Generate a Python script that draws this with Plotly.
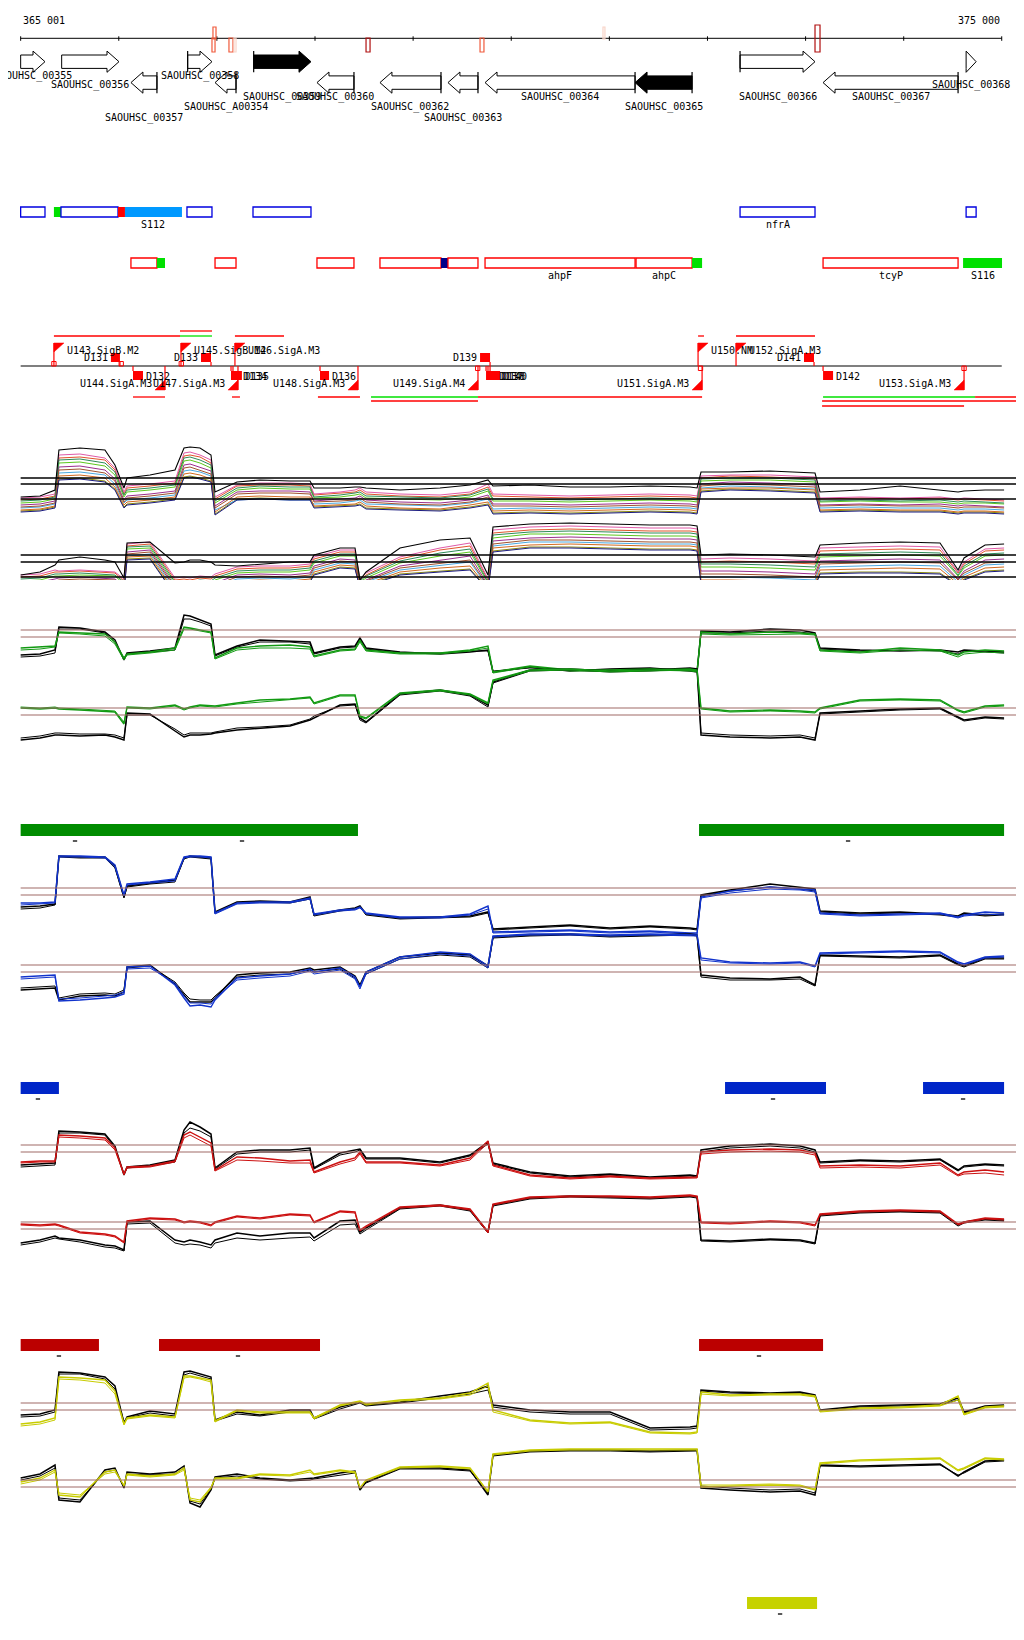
import plotly.graph_objects as go

# the page body has an 8px margin, so the figure is sized to fit inside the window
PAGE_OFF = 8
FIG_W, FIG_H = 1024 - PAGE_OFF, 1640 - PAGE_OFF
X_RANGE = [364872, 375227]

# ====================== DATA ======================
SCALE_FROM, SCALE_TO = 365001, 375000
SCALE_TICKS = [365001, 366001, 367001, 368001, 369001, 370001, 371001, 372001, 373001, 374001, 375000]
SCALE_LABELS = ["365 001", "375 000"]

# small probe marks on the ruler
MARK_START = [366951, 366961, 367124, 367175, 368521, 369683, 370936, 373097]
MARK_END = [366982, 366992, 367165, 367196, 368562, 369723, 370956, 373148]
MARK_SIDE = ["-", "+", "-", "-", "-", "-", "+", "b"]
MARK_KIND = ["mid", "mid", "mid", "weak", "strong", "mid", "weak", "strong"]

# genes
GENE_NAMES = ["SAOUHSC_00355", "SAOUHSC_00356", "SAOUHSC_00357", "SAOUHSC_00358", "SAOUHSC_A00354",
              "SAOUHSC_00359", "SAOUHSC_00360", "SAOUHSC_00362", "SAOUHSC_00363", "SAOUHSC_00364",
              "SAOUHSC_00365", "SAOUHSC_00366", "SAOUHSC_00367", "SAOUHSC_00368"]
GENE_START = [365001, 365419, 366125, 366703, 366982, 367376, 368021, 368663, 369356, 369734,
              371263, 372333, 373179, 374637]
GENE_END = [365249, 366003, 366390, 366951, 367196, 367960, 368398, 369285, 369662, 371263,
            371844, 373097, 374555, 374739]
GENE_STRAND = ["+", "+", "-", "+", "-", "+", "-", "-", "-", "-", "-", "+", "-", "+"]
GENE_HIGHLIGHT = [0, 0, 0, 0, 0, 1, 0, 0, 0, 0, 1, 0, 0, 0]
GENE_START_MARK = [0, 0, 1, 1, 1, 1, 1, 1, 1, 1, 1, 1, 1, 0]

# feature track 1
F1_START = [365001, 365340, 365412, 365993, 366064, 366696, 367369, 372333, 374637]
F1_END = [365249, 365412, 365993, 366064, 366645, 366951, 367960, 373097, 374739]
F1_KIND = ["box", "green", "box", "red", "lblue", "box", "box", "box", "box"]
F1_LABEL = ["", "", "", "", "S112", "", "", "nfrA", ""]

# feature track 2
F2_START = [366125, 366390, 366982, 368021, 368663, 369285, 369356, 369734, 371273, 371844, 373179, 374606]
F2_END = [366390, 366472, 367196, 368398, 369285, 369356, 369662, 371263, 371844, 371946, 374555, 375003]
F2_KIND = ["box", "green", "box", "box", "box", "navy", "box", "box", "box", "green", "box", "green"]
F2_LABEL = ["", "", "", "", "", "", "", "ahpF", "ahpC", "", "tcyP", "S116"]

# promoters
PROM_NAME = ["U143.SigB.M2", "U145.SigB.M2", "U146.SigA.M3", "U150.NM", "U152.SigA.M3",
             "U144.SigA.M3", "U147.SigA.M3", "U148.SigA.M3", "U149.SigA.M4", "U151.SigA.M3", "U153.SigA.M3"]
PROM_POS = [365340, 366635, 367185, 371905, 372292, 366472, 367216, 368439, 369662, 371946, 374616]
PROM_STRAND = ["+", "+", "+", "+", "+", "-", "-", "-", "-", "-", "-"]

# terminators
TERM_NAME = ["D131", "D133", "D139", "D141", "D132", "D134", "D135", "D136", "D137", "D138", "D140", "D142"]
TERM_START = [365921, 366839, 369683, 372985, 366146, 367145, 367165, 368052, 369744, 369764, 369785, 373179]
TERM_END = [366013, 366941, 369785, 373087, 366248, 367236, 367256, 368144, 369846, 369866, 369887, 373281]
TERM_STRAND = ["+", "+", "+", "+", "-", "-", "-", "-", "-", "-", "-", "-"]

# boundary sites on the transcription axis
SITE_POS = [365340, 366026, 366638, 369659, 371930, 374616]
SITE_STRAND = ["+", "+", "+", "-", "-", "-"]

# transcript segments
TX_START = [365340, 366625, 366625, 367185, 371905, 372292, 366146, 367155, 368031, 368572, 368572,
            369662, 373179, 374728, 373169, 373169]
TX_END = [366625, 366951, 366951, 367685, 371966, 373097, 366472, 367236, 368459, 369662, 369662,
          371946, 374728, 375227, 375227, 374616]
TX_ROW = [-1, -1, -2, -1, -1, -1, 1, 1, 1, 1, 2, 1, 1, 1, 2, 3]
TX_KIND = ["r", "g", "r", "r", "r", "r", "r", "r", "r", "g", "r", "r", "g", "r", "r", "r"]

# significance bars
GREEN_BAR_START = [365001, 371915]
GREEN_BAR_END = [368439, 375024]
GREEN_DASH = [365555, 367257, 373434]
BLUE_BAR_START = [365001, 372180, 374198]
BLUE_BAR_END = [365391, 373209, 375024]
BLUE_DASH = [365177, 372669, 374606]
RED_BAR_START = [365001, 366411, 371915]
RED_BAR_END = [365799, 368052, 373179]
RED_DASH = [365391, 367216, 372526]
YEL_BAR_START = [372404]
YEL_BAR_END = [373118]
YEL_DASH = [372741]

# common sampling positions of the signal profiles
POS = [365001, 365198, 365351, 365391, 365605, 365860, 365962, 366054, 366085, 366319,
       366574, 366666, 366727, 366829, 366941, 366982, 367206, 367440, 367746, 367950,
       367991, 368256, 368409, 368459, 368521, 368867, 369275, 369581, 369764, 369815,
       370192, 370600, 371008, 371415, 371823, 371895, 371935, 372231, 372639, 372944,
       373097, 373148, 373556, 373964, 374371, 374555, 374616, 374830, 375024]

# ---- multi-condition panel (signal units) ----
MC_TOP_BLACK = [103, 104, 110, 150, 152, 150, 135, 112, 122, 125,
                130, 152, 153, 152, 145, 108, 118, 120, 119, 119,
                112, 112, 113, 113, 112, 110, 112, 115, 120, 114,
                115, 113, 113, 114, 113, 112, 128, 128, 129, 128,
                127, 108, 110, 114, 110, 108, 109, 110, 110]
MC_TOP_1 = [100, 101, 104, 142, 143, 140, 130, 106, 112, 114,
            117, 144, 145, 143, 137, 101, 114, 115, 115, 114,
            105, 107, 108, 110, 106, 104, 103, 106, 113, 104,
            103, 102, 103, 104, 103, 102, 122, 124, 123, 122,
            121, 101, 102, 101, 102, 100, 101, 100, 99]
MC_TOP_2 = [97, 98, 101, 137, 138, 134, 125, 103, 108, 110,
            113, 139, 140, 137, 132, 97, 110, 112, 111, 111,
            102, 103, 105, 106, 102, 101, 100, 103, 109, 99,
            99, 98, 99, 100, 99, 98, 119, 120, 120, 119,
            118, 98, 99, 98, 98, 96, 97, 97, 96]
MC_TOP_3 = [95, 96, 99, 133, 134, 130, 121, 100, 104, 106,
            109, 135, 136, 133, 129, 94, 108, 109, 109, 108,
            99, 101, 102, 104, 100, 98, 97, 100, 105, 96,
            96, 95, 96, 97, 96, 95, 116, 118, 117, 116,
            115, 95, 96, 95, 96, 94, 95, 94, 93]
MC_TOP_4 = [89, 90, 93, 121, 122, 119, 111, 93, 96, 98,
            101, 123, 124, 122, 119, 86, 101, 102, 101, 101,
            93, 94, 95, 96, 92, 91, 90, 93, 96, 87,
            88, 87, 88, 89, 88, 87, 109, 111, 110, 109,
            108, 89, 90, 89, 89, 87, 88, 88, 87]
MC_TOP_5 = [92, 93, 96, 127, 128, 125, 116, 97, 100, 102,
            105, 129, 130, 128, 124, 90, 100, 101, 100, 100,
            96, 97, 99, 100, 96, 95, 94, 97, 101, 91,
            92, 91, 92, 93, 92, 91, 112, 114, 113, 112,
            111, 92, 93, 92, 92, 90, 91, 91, 90]
MC_TOP_6 = [90, 91, 94, 124, 125, 122, 113, 95, 98, 100,
            103, 126, 127, 125, 121, 88, 103, 104, 103, 103,
            94, 95, 96, 98, 94, 92, 91, 95, 98, 89,
            90, 89, 90, 91, 90, 89, 111, 112, 112, 111,
            110, 90, 91, 90, 90, 88, 89, 89, 88]
MC_TOP_7 = [102, 103, 106, 145, 146, 142, 132, 108, 114, 116,
            119, 147, 148, 145, 140, 103, 115, 117, 117, 116,
            106, 108, 110, 112, 108, 106, 105, 108, 116, 106,
            105, 104, 105, 106, 105, 104, 124, 125, 125, 124,
            123, 102, 103, 102, 103, 101, 102, 101, 100]
MC_TOP_8 = [99, 100, 103, 140, 141, 137, 128, 105, 110, 112,
            115, 142, 143, 140, 135, 99, 112, 114, 113, 113,
            103, 105, 107, 108, 104, 103, 102, 105, 111, 101,
            101, 100, 101, 102, 101, 100, 121, 122, 122, 121,
            120, 99, 100, 99, 100, 98, 99, 98, 97]
MC_TOP_9 = [93, 94, 97, 130, 131, 127, 119, 98, 102, 104,
            107, 132, 133, 130, 126, 92, 106, 107, 107, 106,
            98, 99, 100, 102, 98, 96, 95, 98, 103, 94,
            94, 93, 94, 95, 94, 93, 114, 116, 115, 114,
            113, 94, 95, 94, 94, 92, 93, 93, 92]
MC_TOP_10 = [88, 89, 92, 120, 121, 118, 110, 92, 95, 97,
             100, 122, 123, 121, 118, 85, 100, 101, 100, 100,
             92, 93, 94, 95, 91, 90, 89, 92, 95, 86,
             87, 86, 87, 88, 87, 86, 108, 110, 109, 108,
             107, 88, 89, 88, 88, 86, 87, 87, 86]
MC_BOT_BLACK = [25, 28, 35, 40, 43, 40, 38, 22, 57, 58,
                37, 38, 40, 40, 38, 35, 34, 36, 38, 38,
                45, 52, 52, 20, 28, 52, 60, 62, 25, 73,
                76, 77, 76, 75, 75, 74, 45, 46, 45, 44,
                43, 55, 57, 58, 57, 30, 42, 55, 56]
MC_BOT_1 = [23, 24, 28, 28, 29, 28, 27, 19, 54, 56,
            20, 21, 20, 22, 21, 24, 31, 32, 32, 34,
            41, 48, 48, 20, 25, 41, 50, 54, 20, 67,
            70, 71, 70, 69, 69, 68, 38, 39, 38, 37,
            36, 49, 50, 51, 50, 27, 36, 49, 50]
MC_BOT_2 = [19, 20, 24, 24, 25, 24, 24, 16, 51, 52,
            16, 17, 16, 18, 17, 20, 27, 28, 28, 30,
            37, 44, 44, 18, 22, 37, 44, 48, 17, 62,
            66, 66, 65, 64, 64, 63, 33, 33, 32, 31,
            30, 43, 44, 45, 44, 24, 32, 44, 45]
MC_BOT_3 = [17, 18, 21, 22, 23, 22, 21, 14, 48, 50,
            14, 15, 14, 16, 15, 17, 25, 26, 25, 27,
            34, 41, 40, 16, 20, 34, 40, 44, 15, 59,
            62, 63, 62, 61, 61, 60, 29, 29, 28, 27,
            26, 39, 40, 41, 40, 21, 29, 40, 41]
MC_BOT_4 = [9, 10, 13, 15, 16, 15, 15, 9, 41, 42,
            6, 7, 6, 8, 7, 9, 17, 18, 17, 19,
            26, 33, 32, 12, 15, 26, 29, 31, 11, 49,
            53, 53, 52, 51, 51, 50, 17, 17, 16, 15,
            14, 27, 28, 28, 27, 15, 21, 29, 30]
MC_BOT_5 = [13, 14, 17, 18, 19, 18, 18, 12, 44, 46,
            10, 11, 10, 12, 11, 13, 21, 22, 21, 23,
            30, 37, 36, 14, 18, 30, 35, 38, 13, 54,
            58, 58, 57, 56, 56, 55, 23, 23, 22, 21,
            20, 33, 34, 35, 34, 18, 25, 35, 36]
MC_BOT_6 = [11, 12, 15, 17, 18, 17, 16, 10, 43, 44,
            8, 9, 8, 10, 9, 11, 19, 20, 19, 21,
            28, 35, 34, 13, 16, 28, 32, 34, 12, 52,
            55, 56, 55, 54, 54, 53, 20, 20, 19, 18,
            17, 30, 31, 32, 31, 16, 23, 32, 33]
MC_BOT_7 = [25, 26, 30, 29, 30, 29, 28, 21, 56, 58,
            22, 23, 22, 24, 23, 26, 33, 34, 34, 36,
            43, 50, 50, 21, 27, 43, 52, 57, 21, 70,
            73, 74, 73, 72, 72, 71, 41, 42, 41, 40,
            39, 52, 53, 54, 53, 28, 38, 51, 52]
MC_BOT_8 = [21, 22, 26, 26, 27, 26, 25, 18, 53, 54,
            18, 19, 18, 20, 19, 22, 29, 30, 30, 32,
            39, 46, 46, 19, 24, 39, 47, 51, 18, 65,
            68, 69, 68, 67, 67, 66, 36, 36, 35, 34,
            33, 46, 47, 48, 47, 25, 34, 46, 47]
MC_BOT_9 = [15, 16, 19, 20, 21, 20, 20, 13, 46, 48,
            12, 13, 12, 14, 13, 15, 23, 24, 23, 25,
            32, 39, 38, 16, 19, 32, 37, 40, 14, 56,
            60, 60, 59, 58, 58, 57, 26, 26, 25, 24,
            23, 36, 37, 38, 37, 20, 27, 37, 38]
MC_BOT_10 = [8, 9, 12, 14, 15, 14, 14, 8, 40, 41,
             5, 6, 5, 7, 6, 8, 16, 17, 16, 18,
             25, 32, 31, 12, 14, 25, 28, 30, 10, 48,
             52, 52, 51, 50, 50, 49, 16, 15, 14, 14,
             13, 26, 27, 27, 26, 14, 20, 28, 29]
MC_THRESH = [122, 116, 101, 45, 38, 23]

# ---- green panel ----
G_TOP_K1 = [105, 106, 110, 133, 132, 128, 120, 100, 107, 109,
            112, 145, 144, 140, 136, 105, 114, 120, 119, 118,
            107, 113, 114, 122, 112, 108, 106, 108, 110, 88,
            93, 89, 91, 92, 89, 88, 129, 128, 131, 130,
            127, 112, 110, 109, 110, 108, 110, 109, 108]
G_TOP_K2 = [103, 104, 107, 131, 131, 127, 118, 101, 106, 108,
            110, 141, 141, 138, 134, 104, 113, 118, 118, 116,
            106, 112, 113, 121, 111, 107, 107, 109, 109, 89,
            92, 90, 90, 91, 90, 89, 127, 127, 129, 128,
            126, 111, 109, 110, 109, 106, 109, 108, 107]
G_TOP_C1 = [112, 113, 114, 128, 127, 126, 118, 102, 106, 108,
            112, 133, 132, 130, 128, 102, 112, 114, 115, 113,
            104, 110, 111, 120, 110, 107, 107, 110, 114, 88,
            94, 90, 90, 91, 90, 89, 128, 126, 128, 127,
            126, 110, 108, 112, 110, 105, 108, 110, 109]
G_TOP_C2 = [110, 111, 113, 127, 126, 124, 116, 100, 105, 107,
            110, 131, 131, 129, 127, 101, 110, 112, 112, 111,
            103, 109, 110, 118, 109, 106, 106, 109, 112, 87,
            93, 89, 89, 90, 89, 88, 126, 125, 126, 126,
            125, 109, 107, 110, 109, 103, 106, 108, 107]
G_BOT_K1 = [20, 22, 25, 25, 24, 25, 23, 20, 47, 46,
            29, 23, 25, 25, 26, 27, 30, 32, 34, 40,
            42, 55, 56, 42, 38, 66, 70, 65, 55, 78,
            90, 91, 89, 90, 92, 91, 25, 23, 22, 23,
            20, 47, 49, 51, 52, 43, 40, 43, 42]
G_BOT_K2 = [22, 24, 27, 27, 26, 26, 25, 22, 45, 45,
            31, 25, 27, 27, 27, 28, 32, 33, 35, 41,
            44, 54, 55, 40, 37, 65, 69, 64, 53, 77,
            89, 90, 88, 89, 91, 90, 27, 25, 24, 25,
            22, 46, 48, 50, 51, 42, 39, 42, 41]
G_BOT_C1 = [52, 51, 52, 51, 50, 49, 48, 36, 53, 52,
            55, 51, 53, 55, 54, 54, 57, 60, 61, 63,
            57, 65, 65, 44, 42, 67, 70, 66, 57, 80,
            90, 91, 89, 90, 91, 90, 52, 49, 50, 49,
            48, 52, 60, 61, 60, 50, 48, 54, 55]
G_BOT_C2 = [53, 52, 53, 52, 51, 50, 49, 38, 52, 51,
            54, 50, 52, 54, 53, 53, 56, 58, 60, 62,
            56, 64, 64, 43, 41, 66, 69, 65, 56, 79,
            89, 90, 88, 89, 90, 89, 51, 48, 49, 48,
            47, 51, 59, 60, 59, 49, 47, 53, 54]
G_THRESH = [130, 123, 52, 45]

# ---- blue panel ----
B_TOP_K1 = [103, 104, 106, 154, 153, 153, 144, 113, 124, 127,
            130, 152, 154, 153, 152, 98, 108, 109, 108, 113,
            95, 100, 102, 104, 96, 92, 93, 94, 98, 81,
            83, 85, 82, 84, 82, 81, 115, 120, 126, 123,
            121, 99, 97, 98, 96, 94, 97, 95, 96]
B_TOP_K2 = [101, 102, 105, 153, 152, 152, 142, 112, 123, 126,
            128, 151, 153, 152, 151, 97, 107, 108, 107, 111,
            94, 99, 101, 103, 95, 91, 92, 93, 97, 80,
            82, 84, 81, 83, 81, 80, 114, 119, 123, 121,
            119, 98, 96, 97, 95, 93, 96, 94, 95]
B_TOP_C1 = [107, 107, 108, 154, 154, 153, 145, 115, 126, 128,
            131, 153, 154, 154, 153, 97, 107, 108, 108, 112,
            96, 100, 101, 103, 97, 93, 93, 96, 104, 78,
            79, 80, 78, 79, 77, 77, 113, 119, 123, 121,
            120, 97, 95, 96, 97, 93, 95, 98, 97]
B_TOP_C2 = [105, 106, 107, 153, 153, 152, 143, 114, 125, 127,
            129, 152, 153, 153, 152, 96, 106, 107, 107, 111,
            95, 99, 100, 102, 96, 92, 92, 95, 101, 77,
            78, 79, 77, 78, 76, 76, 112, 117, 121, 120,
            118, 96, 94, 95, 96, 92, 94, 96, 95]
B_BOT_K1 = [20, 21, 22, 10, 14, 15, 14, 18, 43, 45,
            26, 15, 8, 8, 8, 12, 35, 37, 38, 42,
            40, 43, 34, 25, 38, 53, 57, 55, 44, 73,
            75, 76, 74, 75, 76, 75, 35, 32, 31, 33,
            25, 55, 54, 53, 55, 46, 44, 52, 52]
B_BOT_K2 = [22, 23, 24, 12, 16, 17, 16, 20, 42, 44,
            28, 17, 11, 10, 10, 14, 33, 35, 36, 40,
            38, 41, 32, 24, 36, 51, 55, 53, 42, 72,
            74, 75, 73, 74, 75, 74, 33, 30, 30, 31,
            24, 54, 53, 52, 54, 45, 43, 51, 51]
B_BOT_C1 = [33, 34, 35, 9, 10, 12, 13, 16, 43, 44,
            25, 12, 4, 5, 3, 10, 32, 34, 36, 41,
            38, 42, 33, 23, 38, 53, 58, 56, 44, 74,
            76, 76, 75, 76, 75, 75, 52, 48, 47, 48,
            44, 57, 58, 59, 58, 48, 46, 53, 54]
B_BOT_C2 = [31, 32, 33, 11, 12, 14, 15, 18, 41, 42,
            27, 14, 7, 7, 6, 12, 30, 32, 34, 39,
            36, 40, 31, 21, 36, 51, 56, 54, 42, 73,
            75, 75, 74, 75, 74, 74, 50, 47, 46, 47,
            43, 56, 57, 58, 57, 47, 45, 52, 53]
B_THRESH = [122, 115, 45, 38]

# ---- red panel ----
R_TOP_K1 = [95, 96, 97, 129, 128, 126, 114, 85, 93, 95,
            100, 130, 138, 133, 126, 92, 108, 110, 110, 112,
            92, 107, 110, 111, 102, 102, 98, 105, 118, 97,
            88, 84, 86, 83, 85, 84, 110, 114, 116, 114,
            110, 98, 100, 99, 101, 90, 94, 96, 95]
R_TOP_K2 = [93, 94, 95, 127, 127, 125, 112, 86, 92, 94,
            98, 127, 132, 129, 123, 91, 106, 108, 108, 110,
            91, 105, 108, 110, 101, 101, 97, 104, 116, 96,
            87, 83, 85, 82, 84, 83, 108, 112, 114, 112,
            108, 97, 99, 98, 100, 89, 93, 95, 94]
R_TOP_C1 = [98, 99, 99, 125, 124, 122, 112, 86, 93, 94,
            99, 125, 128, 123, 117, 90, 103, 102, 99, 100,
            88, 98, 102, 108, 98, 98, 95, 102, 119, 95,
            85, 82, 84, 82, 83, 83, 108, 110, 111, 110,
            107, 94, 95, 94, 97, 85, 88, 90, 88]
R_TOP_C2 = [97, 98, 98, 123, 122, 120, 110, 85, 92, 93,
            98, 122, 125, 120, 114, 89, 100, 99, 97, 97,
            87, 96, 100, 106, 97, 97, 94, 100, 117, 94,
            84, 81, 83, 81, 82, 82, 106, 108, 109, 108,
            105, 92, 93, 92, 95, 84, 86, 87, 85]
R_BOT_K1 = [17, 20, 24, 22, 20, 15, 14, 10, 38, 39,
            20, 18, 20, 18, 15, 20, 27, 24, 27, 27,
            22, 39, 40, 28, 32, 52, 55, 50, 28, 55,
            62, 64, 63, 62, 64, 63, 20, 19, 21, 20,
            17, 45, 48, 49, 48, 35, 38, 41, 40]
R_BOT_K2 = [15, 18, 22, 21, 18, 13, 12, 9, 36, 37,
            17, 15, 16, 15, 12, 17, 22, 20, 22, 23,
            19, 35, 36, 26, 30, 51, 54, 49, 27, 54,
            61, 63, 62, 61, 63, 62, 19, 18, 20, 19,
            16, 44, 47, 48, 47, 34, 37, 40, 39]
R_BOT_C1 = [36, 35, 36, 35, 28, 26, 24, 18, 39, 42,
            41, 38, 39, 38, 35, 38, 44, 42, 46, 45,
            38, 49, 48, 30, 34, 53, 55, 51, 28, 56,
            63, 64, 64, 63, 65, 64, 38, 37, 39, 38,
            35, 46, 49, 50, 49, 36, 38, 42, 41]
R_BOT_C2 = [35, 34, 35, 34, 27, 25, 23, 17, 38, 41,
            40, 37, 38, 37, 34, 37, 43, 41, 45, 44,
            37, 48, 47, 29, 33, 52, 54, 50, 27, 55,
            62, 63, 63, 62, 64, 63, 37, 36, 38, 37,
            34, 45, 48, 49, 48, 35, 37, 41, 40]
R_THRESH = [115, 108, 38, 31]

# ---- yellow panel ----
Y_TOP_K1 = [105, 106, 110, 148, 147, 143, 134, 97, 103, 109,
            106, 148, 149, 146, 143, 100, 108, 105, 110, 110,
            102, 113, 117, 118, 115, 118, 124, 128, 134, 115,
            110, 108, 108, 92, 93, 94, 130, 128, 127, 128,
            125, 110, 114, 115, 116, 122, 108, 114, 115]
Y_TOP_K2 = [103, 104, 108, 146, 146, 141, 131, 98, 102, 107,
            104, 145, 147, 144, 141, 99, 106, 104, 108, 108,
            101, 111, 115, 117, 114, 117, 122, 126, 130, 113,
            108, 106, 106, 90, 91, 92, 129, 127, 126, 127,
            124, 109, 113, 114, 115, 120, 107, 113, 114]
Y_TOP_C1 = [96, 98, 102, 143, 142, 140, 129, 96, 102, 105,
            103, 144, 144, 142, 140, 99, 110, 108, 108, 108,
            102, 115, 118, 119, 116, 120, 122, 127, 137, 110,
            100, 97, 98, 88, 87, 88, 128, 125, 126, 126,
            124, 109, 112, 113, 115, 124, 106, 113, 114]
Y_TOP_C2 = [94, 96, 100, 141, 140, 137, 126, 95, 101, 104,
            102, 142, 143, 141, 138, 98, 109, 107, 107, 107,
            101, 114, 117, 118, 115, 119, 121, 125, 134, 108,
            99, 96, 97, 87, 86, 87, 126, 124, 125, 125,
            123, 108, 111, 112, 114, 120, 105, 112, 113]
Y_BOT_K1 = [42, 46, 55, 20, 18, 50, 52, 32, 48, 46,
            48, 54, 17, 13, 30, 43, 46, 42, 40, 42,
            42, 47, 49, 30, 38, 52, 52, 50, 25, 65,
            69, 70, 70, 69, 70, 70, 32, 30, 28, 29,
            25, 55, 54, 55, 56, 44, 48, 59, 60]
Y_BOT_K2 = [40, 44, 52, 22, 20, 48, 50, 33, 46, 45,
            46, 52, 19, 16, 31, 42, 44, 41, 39, 40,
            41, 45, 47, 31, 37, 51, 51, 49, 27, 64,
            68, 69, 69, 68, 69, 69, 34, 32, 30, 31,
            27, 54, 53, 54, 55, 45, 47, 58, 59]
Y_BOT_C1 = [38, 42, 50, 25, 23, 48, 50, 34, 46, 44,
            46, 52, 20, 18, 32, 42, 42, 46, 45, 50,
            46, 50, 48, 32, 40, 53, 54, 52, 28, 66,
            70, 71, 71, 71, 71, 71, 33, 34, 35, 34,
            30, 57, 60, 61, 62, 50, 52, 62, 61]
Y_BOT_C2 = [36, 40, 48, 27, 25, 46, 48, 35, 45, 43,
            45, 50, 22, 20, 33, 41, 41, 45, 44, 48,
            45, 49, 47, 33, 39, 52, 53, 51, 29, 65,
            69, 70, 70, 70, 70, 70, 35, 35, 36, 35,
            31, 56, 59, 60, 61, 49, 51, 61, 60]
Y_THRESH = [117, 110, 40, 33]

# ====================== STYLE / LAYOUT ======================
FONT = "DejaVu Sans Mono"
TXT = dict(family=FONT, size=10, color="black")
RED = "#ff0000"
GRN = "#00e000"
MARK_COLORS = {"mid": "#f05a3c", "weak": "#f8d4c8", "strong": "#b01010"}
MARK_Y = {"+": (27, 39), "-": (38, 52), "b": (25, 52)}
RULER_Y = 38.3
GENE_ROW = {"+": 61.7, "-": 82.6}
GENE_LABEL_Y = {"SAOUHSC_00355": 76, "SAOUHSC_00356": 85, "SAOUHSC_00357": 118, "SAOUHSC_00358": 76,
                "SAOUHSC_A00354": 107, "SAOUHSC_00359": 97, "SAOUHSC_00360": 97, "SAOUHSC_00362": 107,
                "SAOUHSC_00363": 118, "SAOUHSC_00364": 97, "SAOUHSC_00365": 107, "SAOUHSC_00366": 97,
                "SAOUHSC_00367": 97, "SAOUHSC_00368": 85}
HEAD_BP = 122
F1_Y, F2_Y = (207, 217), (258, 268)
F_FILL = {"green": GRN, "red": RED, "lblue": "#0099ff", "navy": "#000088"}
TX_LINE_Y = 366
TX_ROW_Y = {-2: 331, -1: 336, 1: 397, 2: 401, 3: 406}
FLAG_BP = 102
SITE_BP = 22

# page-pixel extents (top, bottom) of the signal panels
PANEL_PX = {"y2": (420, 600), "y3": (580, 760), "y4": (840, 1010), "y5": (1100, 1260), "y6": (1350, 1520)}

fig = go.Figure()
shapes = []
annos = []


def rect(x0, x1, y0, y1, line=None, fill=None, width=1.2, yref="y"):
    shapes.append(dict(type="rect", xref="x", yref=yref, x0=x0, x1=x1, y0=y0, y1=y1,
                       line=dict(color=line if line else "rgba(0,0,0,0)", width=width if line else 0),
                       fillcolor=fill if fill else "rgba(0,0,0,0)", layer="above"))


def hline(x0, x1, y, color, width=1.0, yref="y"):
    shapes.append(dict(type="line", xref="x", yref=yref, x0=x0, x1=x1, y0=y, y1=y,
                       line=dict(color=color, width=width), layer="above"))


def vline(x, y0, y1, color, width=1.0):
    shapes.append(dict(type="line", xref="x", yref="y", x0=x, x1=x, y0=y0, y1=y1,
                       line=dict(color=color, width=width), layer="above"))


def text(x, y, s, anchor="center"):
    annos.append(dict(x=x, y=y, xref="x", yref="y", text=s, showarrow=False, xanchor=anchor,
                      yanchor="middle", font=TXT))


def poly(xs, ys, fill, line="black", width=1.0):
    fig.add_trace(go.Scatter(x=xs, y=ys, mode="lines", fill="toself", fillcolor=fill,
                             line=dict(color=line, width=width), xaxis="x", yaxis="y",
                             hoverinfo="skip", showlegend=False))


# ---- ruler ----
hline(SCALE_FROM, SCALE_TO, RULER_Y, "black", 1)
for t in SCALE_TICKS:
    vline(t, RULER_Y - 2, RULER_Y + 2.5, "black", 1)
text(SCALE_FROM, 20, SCALE_LABELS[0], "left")
text(SCALE_TO, 20, SCALE_LABELS[1], "right")
for s, e, side, kind in zip(MARK_START, MARK_END, MARK_SIDE, MARK_KIND):
    y0, y1 = MARK_Y[side]
    rect(s, e, y0, y1, line=MARK_COLORS[kind], width=1.2)

# ---- genes ----
for name, s, e, st, hl, sm in zip(GENE_NAMES, GENE_START, GENE_END, GENE_STRAND, GENE_HIGHLIGHT, GENE_START_MARK):
    yc = GENE_ROW[st]
    h = min(HEAD_BP, e - s)
    bh, hh = 6.7, 10.6
    if st == "+":
        xs = [s, e - h, e - h, e, e - h, e - h, s, s]
    else:
        xs = [e, s + h, s + h, s, s + h, s + h, e, e]
    ys = [yc - bh, yc - bh, yc - hh, yc, yc + hh, yc + bh, yc + bh, yc - bh]
    poly(xs, ys, "black" if hl else "white")
    if sm:
        vline(s if st == "+" else e, yc - hh, yc + hh, "black", 1.2)
    text((s + e) / 2, GENE_LABEL_Y[name], name)

# ---- feature tracks ----
for starts, ends, kinds, labels, (y0, y1), col in [
        (F1_START, F1_END, F1_KIND, F1_LABEL, F1_Y, "#0000e0"),
        (F2_START, F2_END, F2_KIND, F2_LABEL, F2_Y, RED)]:
    for s, e, k, lab in zip(starts, ends, kinds, labels):
        if k == "box":
            rect(s, e, y0, y1, line=col, width=1.3)
        else:
            rect(s, e, y0, y1, fill=F_FILL[k])
        if lab:
            text((s + e) / 2, y1 + 7, lab)

# ---- transcription track ----
hline(SCALE_FROM, SCALE_TO, TX_LINE_Y, "black", 1.2)
for s, e, row, k in zip(TX_START, TX_END, TX_ROW, TX_KIND):
    hline(s, e, TX_ROW_Y[row], RED if k == "r" else GRN, 1.3)
for name, p, st in zip(PROM_NAME, PROM_POS, PROM_STRAND):
    if st == "+":
        vline(p, TX_LINE_Y, 343, RED, 1.2)
        poly([p, p + FLAG_BP, p, p], [343, 343, 352, 343], RED, RED, 0.5)
        text(p + FLAG_BP + 10, 350, name, "left")
    else:
        vline(p, TX_LINE_Y, 390, RED, 1.2)
        poly([p, p - FLAG_BP, p, p], [390, 390, 380, 390], RED, RED, 0.5)
        text(p - FLAG_BP - 10, 383, name, "right")
for name, s, e, st in zip(TERM_NAME, TERM_START, TERM_END, TERM_STRAND):
    if st == "+":
        rect(s, e, 353, 362, fill=RED)
        vline(e, 362, TX_LINE_Y, RED, 1.2)
        text(s - 8, 357.5, name, "right")
    else:
        rect(s, e, 371, 380, fill=RED)
        vline(s, TX_LINE_Y, 371, RED, 1.2)
        text(e + 8, 376, name, "left")
for p, st in zip(SITE_POS, SITE_STRAND):
    if st == "+":
        rect(p - SITE_BP, p + SITE_BP, 361.5, 366, line=RED, width=1)
    else:
        rect(p - SITE_BP, p + SITE_BP, 366, 370.5, line=RED, width=1)

# ---- significance bars ----
for starts, ends, dashes, y0, col in [
        (GREEN_BAR_START, GREEN_BAR_END, GREEN_DASH, 824, "#008c00"),
        (BLUE_BAR_START, BLUE_BAR_END, BLUE_DASH, 1082, "#0026c8"),
        (RED_BAR_START, RED_BAR_END, RED_DASH, 1339, "#bb0000"),
        (YEL_BAR_START, YEL_BAR_END, YEL_DASH, 1597, "#c6d200")]:
    for s, e in zip(starts, ends):
        rect(s, e, y0, y0 + 12, fill=col)
    for d in dashes:
        hline(d - 22, d + 22, y0 + 17, "black", 1.3)


# ---- signal panels ----
def line(vals, color, width, yaxis):
    fig.add_trace(go.Scatter(x=POS, y=vals, mode="lines", line=dict(color=color, width=width),
                             xaxis="x", yaxis=yaxis, hoverinfo="skip", showlegend=False))


mc_colors = ["#e0552b", "#5cc81e", "#9a2e8c", "#8a8a10", "#4aa8e0",
             "#d2691e", "#e05aa8", "#2e8b57", "#a0522d", "#1a1a80"]
for t in MC_THRESH:
    hline(SCALE_FROM, X_RANGE[1], t, "black", 1.3, "y2")
mc_top = [MC_TOP_1, MC_TOP_2, MC_TOP_3, MC_TOP_4, MC_TOP_5, MC_TOP_6, MC_TOP_7, MC_TOP_8, MC_TOP_9, MC_TOP_10]
mc_bot = [MC_BOT_1, MC_BOT_2, MC_BOT_3, MC_BOT_4, MC_BOT_5, MC_BOT_6, MC_BOT_7, MC_BOT_8, MC_BOT_9, MC_BOT_10]
for vals, c in zip(mc_top, mc_colors):
    line(vals, c, 1.0, "y2")
for vals, c in zip(mc_bot, mc_colors):
    line(vals, c, 1.0, "y2")
line(MC_TOP_BLACK, "black", 1.1, "y2")
line(MC_BOT_BLACK, "black", 1.1, "y2")

BROWN = "#a06a66"
for ax, thr, col, series in [
        ("y3", G_THRESH, "#129a12", [G_TOP_K1, G_TOP_K2, G_TOP_C1, G_TOP_C2, G_BOT_K1, G_BOT_K2, G_BOT_C1, G_BOT_C2]),
        ("y4", B_THRESH, "#1133cc", [B_TOP_K1, B_TOP_K2, B_TOP_C1, B_TOP_C2, B_BOT_K1, B_BOT_K2, B_BOT_C1, B_BOT_C2]),
        ("y5", R_THRESH, "#cc1111", [R_TOP_K1, R_TOP_K2, R_TOP_C1, R_TOP_C2, R_BOT_K1, R_BOT_K2, R_BOT_C1, R_BOT_C2]),
        ("y6", Y_THRESH, "#c8cc00", [Y_TOP_K1, Y_TOP_K2, Y_TOP_C1, Y_TOP_C2, Y_BOT_K1, Y_BOT_K2, Y_BOT_C1, Y_BOT_C2])]:
    for t in thr:
        hline(SCALE_FROM, X_RANGE[1], t, BROWN, 1.2, ax)
    k1, k2, c1, c2, bk1, bk2, bc1, bc2 = series
    for v, c, w in [(k2, "black", 1.0), (k1, "black", 1.5), (c2, col, 1.0), (c1, col, 1.4),
                    (bk2, "black", 1.0), (bk1, "black", 1.5), (bc2, col, 1.0), (bc1, col, 1.4)]:
        line(v, c, w, ax)

# ---- layout (y axis 'y' is in page pixels, panels get their own axes) ----
lay = dict(width=FIG_W, height=FIG_H, margin=dict(l=0, r=0, t=0, b=0, pad=0),
           paper_bgcolor="white", plot_bgcolor="white", showlegend=False,
           xaxis=dict(range=X_RANGE, domain=[0, 1], visible=False, fixedrange=True, anchor="y"),
           yaxis=dict(range=[FIG_H + PAGE_OFF, PAGE_OFF], domain=[0, 1], visible=False, fixedrange=True,
                      anchor="x"),
           shapes=shapes, annotations=annos)
for ax, (top, bot) in PANEL_PX.items():
    key = "yaxis" + ax[1:]
    lay[key] = dict(domain=[1 - (bot - PAGE_OFF) / FIG_H, 1 - (top - PAGE_OFF) / FIG_H],
                    range=[0, bot - top], visible=False, fixedrange=True, anchor="x")
fig.update_layout(**lay)
fig.write_html("out.html")
